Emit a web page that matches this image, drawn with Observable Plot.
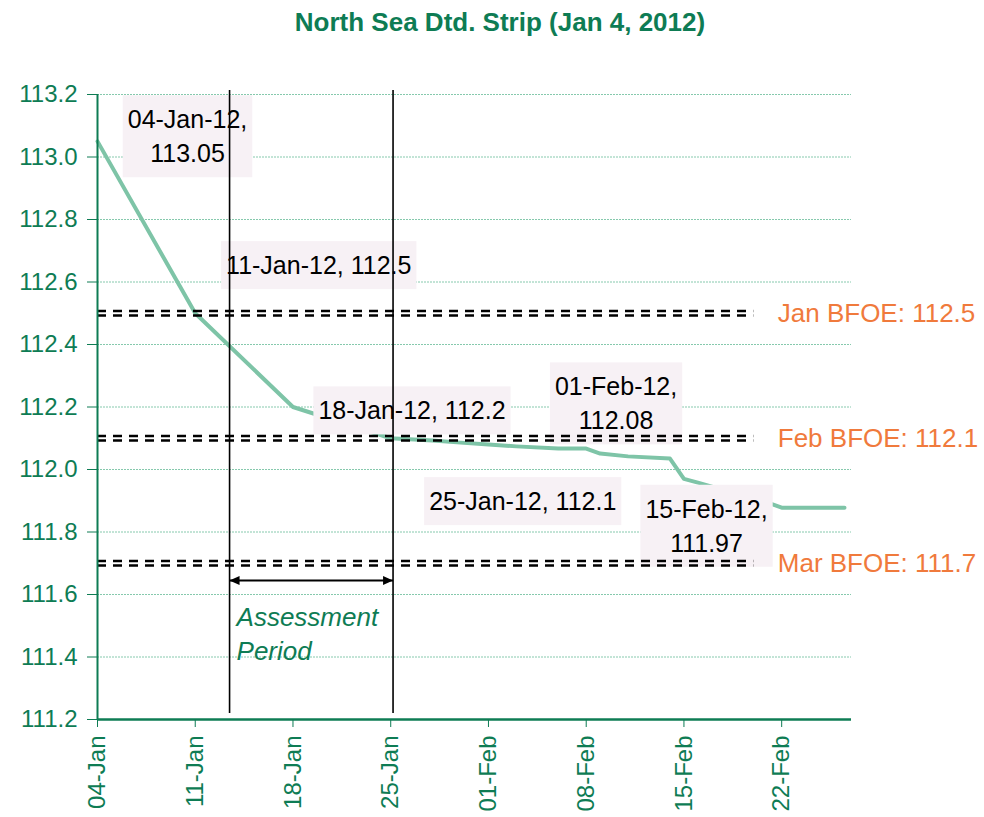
<!DOCTYPE html>
<html><head><meta charset="utf-8">
<script src="https://cdn.jsdelivr.net/npm/d3@7"></script>
<script src="https://cdn.jsdelivr.net/npm/@observablehq/plot@0.6"></script>
<style>
body{margin:0;background:#fff;font-family:"Liberation Sans",Arial,sans-serif;}
#title{height:45px;line-height:45px;text-align:center;padding-left:16px;font-weight:bold;font-size:26px;color:#0E7C54;}
</style></head><body>
<div id="title">North Sea Dtd. Strip (Jan 4, 2012)</div>
<div id="chart"></div>
<script>
// ---- data ----
const seriesDates = ["2012-01-04","2012-01-11","2012-01-18","2012-01-25","2012-01-28","2012-01-30","2012-02-01","2012-02-03","2012-02-06","2012-02-08","2012-02-09","2012-02-11","2012-02-14","2012-02-15","2012-02-16","2012-02-21","2012-02-22","2012-02-26T12:00Z"];
const seriesValues = [113.05,112.5,112.2,112.1,112.093,112.086,112.08,112.074,112.067,112.067,112.051,112.042,112.035,111.97,111.958,111.894,111.878,111.878];
const yTickValues = [111.2,111.4,111.6,111.8,112.0,112.2,112.4,112.6,112.8,113.0,113.2];
const xTickDates = ["2012-01-04","2012-01-11","2012-01-18","2012-01-25","2012-02-01","2012-02-08","2012-02-15","2012-02-22"];
const xDomainDates = ["2012-01-04","2012-02-27"];
const annDates = ["2012-01-04","2012-01-11","2012-01-18","2012-01-25","2012-02-01","2012-02-15"];
const annValues = [113.05,112.5,112.2,112.1,112.08,111.97];
const annTexts = ["04-Jan-12,\n113.05","11-Jan-12, 112.5","18-Jan-12, 112.2","25-Jan-12, 112.1","01-Feb-12,\n112.08","15-Feb-12,\n111.97"];
const bfoeMonths = ["Jan","Feb","Mar"];
const bfoeValues = [112.5,112.1,111.7];
const bfoeStart = "2012-01-04";
const bfoeEnd = "2012-02-20";
const assessmentDates = ["2012-01-13T11:00Z","2012-01-25T04:00Z"];
const assessmentLabel = "Assessment\nPeriod";
const arrowLevel = 111.645;

// ---- styles ----
const green = "#0E7C54";
const lineGreen = "#7EC4A7";
const gridGreen = "#86C9AD";
const orange = "#F07A3C";
const boxFill = "#F7F1F5";
const annOffsets = [[90,-7],[123.5,-50],[119,1.5],[132,61],[127.6,-43],[22.6,45]];

const D = s => new Date(s);
const series = seriesDates.map((d,i)=>({date:D(d), value:seriesValues[i]}));
const bfoe = bfoeMonths.map((m,i)=>({label:`${m} BFOE: ${bfoeValues[i]}`, value:bfoeValues[i]}));

const arrowMarker = (color, context) => {
  const doc = context.document;
  const m = doc.createElementNS("http://www.w3.org/2000/svg","marker");
  m.setAttribute("viewBox","-10 -5 10 10");
  m.setAttribute("markerWidth","10");
  m.setAttribute("markerHeight","10");
  m.setAttribute("markerUnits","userSpaceOnUse");
  m.setAttribute("orient","auto-start-reverse");
  m.setAttribute("refX","0");
  m.setAttribute("refY","0");
  const p = doc.createElementNS("http://www.w3.org/2000/svg","path");
  p.setAttribute("d","M-10,-4.5L0,0L-10,4.5Z");
  p.setAttribute("fill", color);
  p.setAttribute("stroke","none");
  m.appendChild(p);
  return m;
};

const annMarks = annDates.map((d,i)=>Plot.text([0],{
  x: ()=>D(d), y: ()=>annValues[i], text: ()=>annTexts[i],
  dx: annOffsets[i][0], dy: annOffsets[i][1],
  fill: "black", fontSize: 25, lineHeight: 1.36, className: "ann"
}));

const plot = Plot.plot({
  width: 984, height: 772,
  marginLeft: 97, marginRight: 133, marginTop: 49, marginBottom: 98,
  style: {fontFamily: "Liberation Sans, Arial, sans-serif", fontSize: "24px", color: green, background: "white"},
  x: {type: "utc", domain: xDomainDates.map(D)},
  y: {domain: [111.2, 113.2]},
  marks: [
    Plot.gridY(yTickValues.filter(v=>v>111.2), {stroke: gridGreen, strokeOpacity: 1, strokeDasharray: "2,1", strokeWidth: 1}),
    Plot.line(series, {x: "date", y: "value", stroke: lineGreen, strokeWidth: 4}),
    ...annMarks,
    Plot.ruleY(bfoe, {y: "value", x1: ()=>D(bfoeStart), x2: ()=>D(bfoeEnd), stroke: "black", strokeWidth: 2.5, strokeDasharray: "9,7", dy: -2.2}),
    Plot.ruleY(bfoe, {y: "value", x1: ()=>D(bfoeStart), x2: ()=>D(bfoeEnd), stroke: "black", strokeWidth: 2.5, strokeDasharray: "9,7", dy: 2.2}),
    Plot.text(bfoe, {x: ()=>D(bfoeEnd), y: "value", text: "label", textAnchor: "start", dx: 24, fill: orange, fontSize: 26}),
    Plot.ruleX(assessmentDates.map(D), {stroke: "black", strokeWidth: 1.6, insetTop: -4, insetBottom: 6}),
    Plot.link([0], {x1: ()=>D(assessmentDates[0]), x2: ()=>D(assessmentDates[1]), y1: ()=>arrowLevel, y2: ()=>arrowLevel, stroke: "black", strokeWidth: 2, markerStart: arrowMarker, markerEnd: arrowMarker}),
    Plot.text([0], {x: ()=>D(assessmentDates[0]), y: ()=>arrowLevel, text: ()=>assessmentLabel, textAnchor: "start", lineAnchor: "top", dx: 7, dy: 22, fill: green, fontStyle: "italic", fontSize: 26, lineHeight: 1.3}),
    Plot.ruleX([D(xDomainDates[0])], {stroke: green, strokeWidth: 2}),
    Plot.ruleY([111.2], {stroke: green, strokeWidth: 2.5}),
    Plot.axisY(yTickValues, {tickFormat: d3.format(".1f"), tickSize: 10, tickPadding: 10, fontSize: 24, label: null, stroke: green, fill: green}),
    Plot.axisX(xTickDates.map(D), {tickFormat: d3.utcFormat("%d-%b"), tickRotate: -90, tickSize: 8, tickPadding: 8, fontSize: 24, label: null, stroke: green, fill: green})
  ]
});
document.getElementById("chart").append(plot);

// background boxes behind annotation labels
const ns = "http://www.w3.org/2000/svg";
plot.querySelectorAll("g.ann text").forEach(t => {
  const b = t.getBBox();
  const r = document.createElementNS(ns, "rect");
  r.setAttribute("x", b.x - 5);
  r.setAttribute("y", b.y - 10);
  r.setAttribute("width", b.width + 10);
  r.setAttribute("height", b.height + 20);
  r.setAttribute("fill", boxFill);
  r.setAttribute("stroke", "none");
  const tr = t.getAttribute("transform");
  if (tr) r.setAttribute("transform", tr);
  t.parentNode.insertBefore(r, t);
});
</script>
</body></html>
